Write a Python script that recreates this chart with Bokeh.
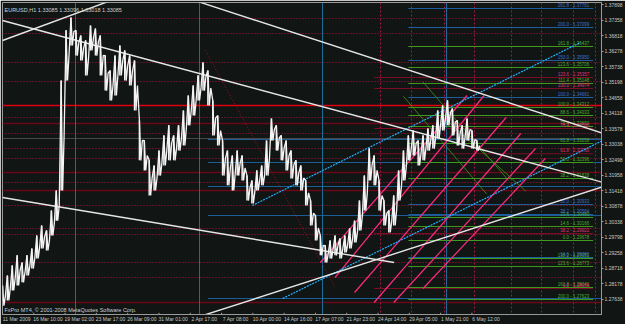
from bokeh.plotting import figure
from bokeh.models import FixedTicker, Label, Range1d
from bokeh.embed import file_html
from bokeh.resources import INLINE
from bokeh.core.properties import value

# ---------------- data ----------------
bar_idx = [10 * k for k in range(98)]
bar_hi = [1.2811, 1.2846, 1.2881, 1.2916, 1.2891, 1.2916, 1.2940, 1.2985, 1.3020, 1.3003,
          1.3072, 1.3142, 1.3525, 1.3700, 1.3745, 1.3700, 1.3682, 1.3665, 1.3717, 1.3706,
          1.3682, 1.3612, 1.3560, 1.3612, 1.3647, 1.3630, 1.3612, 1.3595, 1.3386, 1.3316,
          1.3247, 1.3229, 1.3281, 1.3334, 1.3369, 1.3334, 1.3369, 1.3421, 1.3473, 1.3508,
          1.3543, 1.3588, 1.3560, 1.3456, 1.3403, 1.3316, 1.3281, 1.3264, 1.3281, 1.3264,
          1.3194, 1.3177, 1.3212, 1.3229, 1.3316, 1.3393, 1.3369, 1.3334, 1.3316, 1.3281,
          1.3247, 1.3229, 1.3177, 1.3107, 1.3055, 1.2985, 1.2950, 1.2968, 1.2985, 1.2975,
          1.2985, 1.3010, 1.3037, 1.3107, 1.3194, 1.3288, 1.3264, 1.3177, 1.3107, 1.3072,
          1.3125, 1.3212, 1.3281, 1.3334, 1.3351, 1.3316, 1.3334, 1.3358, 1.3369, 1.3421,
          1.3438, 1.3456, 1.3428, 1.3386, 1.3369, 1.3393, 1.3351, 1.3316]
bar_lo = [1.2741, 1.2759, 1.2794, 1.2811, 1.2822, 1.2846, 1.2870, 1.2905, 1.2940, 1.2933,
          1.2985, 1.3037, 1.3142, 1.3525, 1.3647, 1.3612, 1.3595, 1.3543, 1.3630, 1.3612,
          1.3543, 1.3490, 1.3456, 1.3473, 1.3543, 1.3525, 1.3508, 1.3421, 1.3247, 1.3212,
          1.3125, 1.3142, 1.3194, 1.3229, 1.3247, 1.3247, 1.3281, 1.3299, 1.3369, 1.3403,
          1.3456, 1.3490, 1.3438, 1.3334, 1.3299, 1.3194, 1.3160, 1.3142, 1.3194, 1.3177,
          1.3107, 1.3097, 1.3142, 1.3160, 1.3194, 1.3316, 1.3281, 1.3247, 1.3212, 1.3184,
          1.3160, 1.3142, 1.3090, 1.3020, 1.2968, 1.2916, 1.2891, 1.2905, 1.2916, 1.2905,
          1.2926, 1.2940, 1.2961, 1.3003, 1.3072, 1.3177, 1.3160, 1.3072, 1.3020, 1.2996,
          1.3020, 1.3107, 1.3177, 1.3247, 1.3264, 1.3229, 1.3247, 1.3281, 1.3288, 1.3323,
          1.3351, 1.3369, 1.3334, 1.3299, 1.3288, 1.3316, 1.3288, 1.3281]

time_tick_bars = [0, 64, 128, 192, 256, 320, 384, 448, 512, 576, 640, 704, 768, 832, 896, 960]
time_tick_labels = ["11 Mar 2009", "16 Mar 10:00", "19 Mar 02:00", "23 Mar 17:00", "26 Mar 09:00",
                    "31 Mar 01:00", "2 Apr 17:00", "7 Apr 08:00", "10 Apr 00:00", "14 Apr 16:00",
                    "17 Apr 07:00", "21 Apr 23:00", "24 Apr 14:00", "29 Apr 05:00", "1 May 21:00",
                    "6 May 12:00"]
price_ticks = [1.27098, 1.27638, 1.28178, 1.28718, 1.29258, 1.29798, 1.30338, 1.30878, 1.31418,
               1.31958, 1.32498, 1.33038, 1.33578, 1.34118, 1.34658, 1.35198, 1.35738, 1.36278,
               1.36818, 1.37358, 1.37898]

sr_levels = [1.37413, 1.36890, 1.35880, 1.35218, 1.33964, 1.33406, 1.32884, 1.32535, 1.31699,
             1.30898, 1.30096, 1.29887, 1.28912, 1.28389]
red_solid_levels = [1.34382]
maroon_levels = [1.33755, 1.32048, 1.31420, 1.27518]
blue_h_levels = [1.33197, 1.32396, 1.31560, 1.30549, 1.27658]
blue_h_start = 420
bid_price = 1.33230

fib_green = [1.36437, 1.35706, 1.35148, 1.34312, 1.34033, 1.33650, 1.33058, 1.32396,
             1.31838, 1.30480, 1.30166, 1.29678, 1.29051, 1.28773, 1.28041, 1.27623]
fib_green_names = ["161.8", "123.6", "111.4", "100.0", "88.6", "76.4", "61.8", "50.0",
                   "38.2", "23.6", "14.6", "0.0", "138.2", "123.6", "161.8", "200.0"]
fib_blue = [1.37761, 1.37099, 1.35950, 1.34661, 1.30933, 1.30584, 1.29086]
fib_blue_names = ["261.8", "200.0", "150.0", "100.0", "50.0", "38.2", "14.6"]
fib_maroon = [1.35357, 1.34974, 1.33580, 1.32700, 1.29922, 1.28006]
fib_maroon_names = ["123.6", "100.0", "76.4", "61.8", "38.2", "0.0"]
fib_start, fib_end = 830, 1208
fib_maroon_start = 760

white_lines = [(393, 1.38040, 1229, 1.33406),
               (0, 1.37343, 1229, 1.31699),
               (0, 1.36647, 222, 1.38040),
               (0, 1.31176, 801, 1.28912),
               (410, 1.27066, 1229, 1.31560)]
cyan_lines = [(511, 1.30898, 1182, 1.36577),
              (573, 1.27658, 1240, 1.33267)]
pink_lines = [(650, 1.28912, 950, 1.34730),
              (680, 1.28389, 985, 1.34730),
              (720, 1.27866, 1030, 1.33964),
              (760, 1.27518, 1060, 1.33406),
              (800, 1.27518, 1090, 1.32884),
              (860, 1.28006, 1110, 1.32535)]
darkred_dotted = [(415, 1.36300, 680, 1.28041)]
green_diag = [(860, 1.35200, 1035, 1.31770), (820, 1.34700, 990, 1.31300),
              (900, 1.34000, 1070, 1.31400)]

blue_vlines = [149, 403, 655, 907]
red_vlines = [773, 836, 903, 966, 1040, 1103, 1168, 1213]

title_text = "EURUSD,H1  1.33085 1.33096 1.33018 1.33085"
copyright_text = "FxPro MT4, \u00a9 2001-2008 MetaQuotes Software Corp."

# ---------------- figure ----------------
BG = "#111513"
p = figure(width=625, height=324, output_backend="svg", toolbar_location=None,
           x_range=Range1d(0, 1225), y_range=Range1d(1.2710, 1.3797),
           y_axis_location="right", min_border_left=2, min_border_top=2,
           min_border_right=0, min_border_bottom=0)
p.background_fill_color = BG
p.border_fill_color = BG
p.outline_line_color = "#9a9a9a"
p.grid.visible = False

for ax in (p.xaxis[0], p.yaxis[0]):
    ax.axis_line_color = "#9a9a9a"
    ax.major_tick_line_color = "#9a9a9a"
    ax.minor_tick_line_color = None
    ax.major_tick_in = 0
    ax.major_tick_out = 2
    ax.major_label_text_color = "#c8c8c8"
    ax.major_label_text_font = "Liberation Sans"
    ax.major_label_text_font_size = "5px"
    ax.major_label_standoff = 1

# MT4 writes each time label starting at its bar: centre it half a label-width to the right
LABEL_SHIFT = 29
p.xaxis.ticker = FixedTicker(ticks=[b + LABEL_SHIFT for b in time_tick_bars])
p.xaxis.major_label_overrides = {b + LABEL_SHIFT: l for b, l in zip(time_tick_bars, time_tick_labels)}
p.xaxis.major_tick_out = 0
p.segment(x0=time_tick_bars, x1=time_tick_bars, y0=[1.2710] * 16, y1=[1.2716] * 16,
          line_color="#9a9a9a", line_width=1)
p.yaxis.ticker = FixedTicker(ticks=price_ticks)
p.yaxis.major_label_overrides = {v: f"{v:.5f}" for v in price_ticks}

p.hspan(y=sr_levels, line_color="#b0103c", line_dash="1 2", line_width=1)
p.hspan(y=red_solid_levels, line_color="#e00010", line_width=1.5)
p.hspan(y=maroon_levels, line_color="#6a0818", line_width=1.5)
p.segment(x0=[blue_h_start] * len(blue_h_levels), x1=[1230] * len(blue_h_levels),
          y0=blue_h_levels, y1=blue_h_levels, line_color="#1d5d96", line_width=1.2)
p.hspan(y=[bid_price], line_color="#555555", line_width=0.8)

p.vspan(x=blue_vlines, line_color="#1f6c94", line_width=1)
p.vspan(x=red_vlines, line_color="#a01846", line_dash="2 2", line_width=1)

p.segment(x0=[fib_maroon_start] * len(fib_maroon), x1=[fib_end] * len(fib_maroon),
          y0=fib_maroon, y1=fib_maroon, line_color="#7a0c24", line_width=1.2)
p.segment(x0=[fib_start] * len(fib_green), x1=[fib_end] * len(fib_green),
          y0=fib_green, y1=fib_green, line_color="#3f9a1e", line_width=1)
p.segment(x0=[fib_start] * len(fib_blue), x1=[fib_end] * len(fib_blue),
          y0=fib_blue, y1=fib_blue, line_color="#1f5f9f", line_width=1)

def fib_text(levels, names, color):
    p.text(x=[fib_end - 8] * len(levels), y=[v + 0.0002 for v in levels],
           text=[f"{n} - {v:.5f}" for n, v in zip(names, levels)],
           text_color=color, text_font=value("Liberation Sans"), text_font_size="4.5px",
           text_align="right", text_baseline="bottom")

fib_text(fib_green, fib_green_names, "#48b02a")
fib_text(fib_blue, fib_blue_names, "#4070c8")
fib_text(fib_maroon, fib_maroon_names, "#e0307a")

def seg(lines, **kw):
    p.segment(x0=[l[0] for l in lines], y0=[l[1] for l in lines],
              x1=[l[2] for l in lines], y1=[l[3] for l in lines], **kw)

seg(green_diag, line_color="#3a9a1c", line_width=0.8)
seg(darkred_dotted, line_color="#a01020", line_dash="1 2", line_width=1)
seg(pink_lines, line_color="#ff2a80", line_width=1.2)
seg(cyan_lines, line_color="#22b0ff", line_dash="2 1", line_width=1.2)
seg(white_lines, line_color="#e6e6e6", line_width=1.4)

# price bars: thin high-low bars plus a zig-zag through each step's high and low
zz_x, zz_y = [], []
for b, h, l in zip(bar_idx, bar_hi, bar_lo):
    zz_x += [b, b + 3, b + 6]
    zz_y += [h, l, 0.5 * (h + l)]
p.vbar(x=bar_idx, bottom=bar_lo, top=bar_hi, width=3, fill_color="#f4f4f4", line_color=None)
p.line(zz_x, zz_y, line_color="#f4f4f4", line_width=1.3)

p.add_layout(Label(x=2, y=302, x_units="screen", y_units="screen", text=title_text,
                   text_color="#d0d0d0", text_font_size="5.5px", text_font="Liberation Sans"))
p.add_layout(Label(x=2, y=2, x_units="screen", y_units="screen", text=copyright_text,
                   text_color="#d0d0d0", text_font_size="5.5px", text_font="Liberation Sans"))

open("out.html", "w").write(file_html(p, INLINE))
